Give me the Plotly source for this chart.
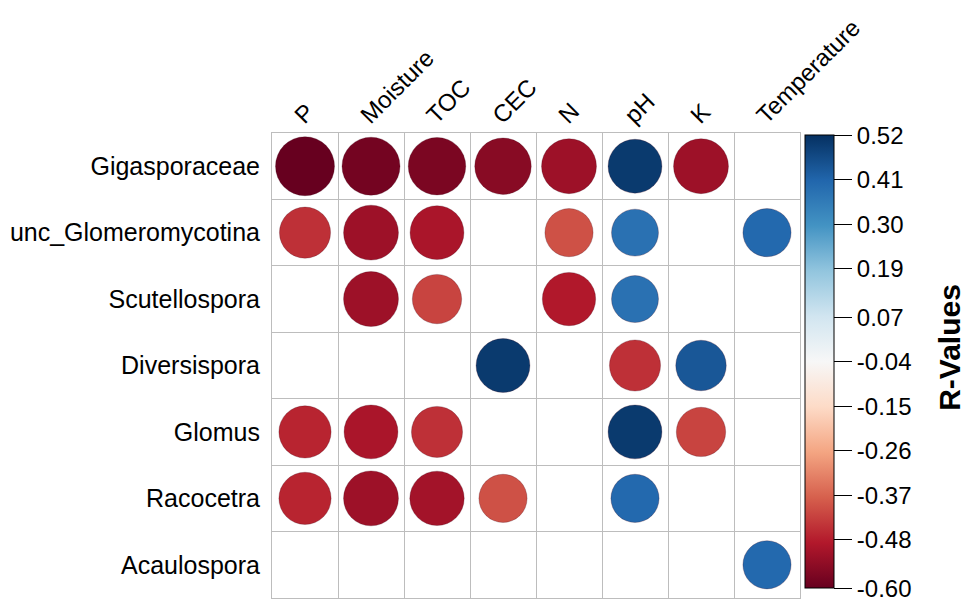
import math
import plotly.graph_objects as go

columns = ["P", "Moisture", "TOC", "CEC", "N", "pH", "K", "Temperature"]
rows = ["Gigasporaceae", "unc_Glomeromycotina", "Scutellospora", "Diversispora",
        "Glomus", "Racocetra", "Acaulospora"]

gigasporaceae = [-0.60, -0.58, -0.57, -0.55, -0.52, 0.50, -0.52, None]
unc_glomeromycotina = [-0.45, -0.52, -0.50, None, -0.40, 0.38, None, 0.40]
scutellospora = [None, -0.52, -0.42, None, -0.49, 0.38, None, None]
diversispora = [None, None, None, 0.50, None, -0.45, 0.44, None]
glomus = [-0.47, -0.50, -0.45, None, None, 0.50, -0.42, None]
racocetra = [-0.47, -0.52, -0.51, -0.40, None, 0.40, None, None]
acaulospora = [None, None, None, None, None, None, None, 0.40]

colorbar_ticks = [0.52, 0.41, 0.30, 0.19, 0.07, -0.04, -0.15, -0.26, -0.37, -0.48, -0.60]
r_min, r_max = -0.60, 0.52
colorbar_title = "R-Values"

matrix = [gigasporaceae, unc_glomeromycotina, scutellospora, diversispora,
          glomus, racocetra, acaulospora]

xs, ys, vals = [], [], []
for i, row in enumerate(matrix):
    for j, v in enumerate(row):
        if v is not None:
            xs.append(j)
            ys.append(i)
            vals.append(v)

max_d = 59
sizes = [max_d * math.sqrt(abs(v) / abs(r_min)) for v in vals]

FONT = "Liberation Sans, Arial, sans-serif"

fig = go.Figure()
fig.add_trace(go.Scatter(
    x=xs, y=ys, mode="markers",
    marker=dict(
        size=sizes, sizemode="diameter", opacity=1,
        color=vals, colorscale="RdBu", cmin=r_min, cmax=r_max,
        line=dict(width=1, color="rgba(60,0,20,0.25)"),
        colorbar=dict(
            x=1.0, xanchor="left", xpad=5, y=0.508, yanchor="middle",
            len=0.975, lenmode="fraction", thickness=29, ypad=0,
            outlinecolor="black", outlinewidth=1,
            tickvals=colorbar_ticks, ticktext=[f"{t:.2f}" for t in colorbar_ticks],
            ticks="outside", ticklen=18, tickcolor="black", tickwidth=1,
            ticklabeloverflow="allow",
            tickfont=dict(family=FONT, size=24, color="black"),
        ),
    ),
    hovertemplate="%{text}<extra></extra>",
    text=[f"{rows[y]} / {columns[x]}: {v:.2f}" for x, y, v in zip(xs, ys, vals)],
    showlegend=False,
))

fig.add_annotation(
    text=f"<b>{colorbar_title}</b>", xref="paper", yref="paper",
    x=1.284, y=0.54, xanchor="center", yanchor="middle", textangle=-90,
    showarrow=False, font=dict(family=FONT, size=30, color="black"),
)

fig.update_xaxes(
    range=[-0.5, len(columns) - 0.5], side="top",
    tickmode="array", tickvals=list(range(len(columns))), ticktext=columns,
    tickangle=-45, ticks="", showgrid=False, zeroline=False,
    tickfont=dict(family=FONT, size=24, color="black"),
    ticklabelshift=-9, ticklabelstandoff=-6,
    minor=dict(tick0=0.5, dtick=1, showgrid=True, gridcolor="#bdbdbd", gridwidth=1),
    showline=True, mirror=True, linecolor="#bdbdbd", linewidth=1,
)
fig.update_yaxes(
    range=[len(rows) - 0.5, -0.5],
    tickmode="array", tickvals=list(range(len(rows))), ticktext=rows,
    ticks="", showgrid=False, zeroline=False,
    tickfont=dict(family=FONT, size=25, color="black"),
    minor=dict(tick0=0.5, dtick=1, showgrid=True, gridcolor="#bdbdbd", gridwidth=1),
    showline=True, mirror=True, linecolor="#bdbdbd", linewidth=1,
    ticklabelstandoff=6,
)

fig.update_layout(
    width=980, height=605,
    margin=dict(l=264, r=188, t=125, b=15, autoexpand=False),
    paper_bgcolor="white", plot_bgcolor="white",
)

fig.write_html("out.html")
